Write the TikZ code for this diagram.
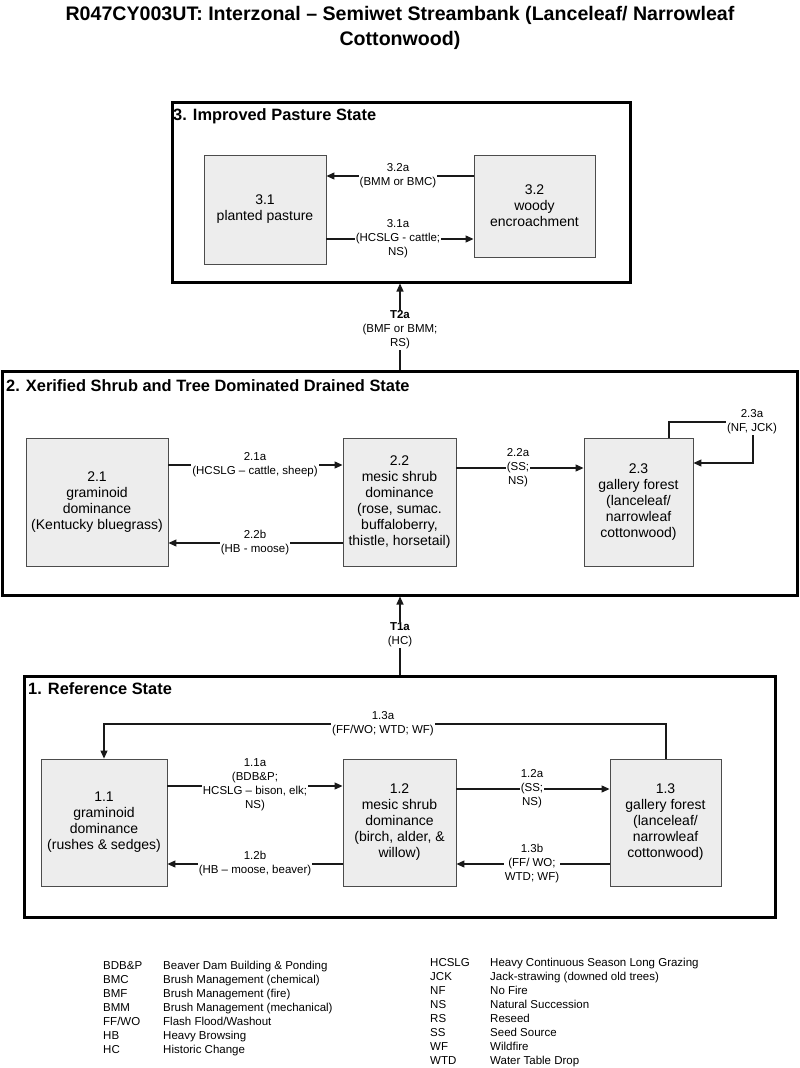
\documentclass[tikz,border=0pt]{standalone}
\usepackage{fontspec}
\setmainfont{Liberation Sans}
\usetikzlibrary{arrows.meta}
\begin{document}
\begin{tikzpicture}[x=1pt,y=-1pt,
  statebox/.style={draw=black, line width=3pt, inner sep=0pt},
  phase/.style={draw=black!70, fill=black!7, line width=0.9pt, inner sep=0pt, align=center,
    font=\fontsize{14}{16}\selectfont},
  lbl/.style={fill=white, inner sep=1pt, align=center, font=\fontsize{11.5}{14}\selectfont},
  sttitle/.style={anchor=west, inner sep=0pt, font=\bfseries\fontsize{16.4}{19}\selectfont},
  legabbr/.style={anchor=base west, inner sep=0pt, font=\fontsize{11.5}{14}\selectfont},
  arr/.style={draw=black!90, line width=1.1pt, -{Triangle[length=8pt,width=7pt]}}
]
\fill[white] (0,0) rectangle (800,1068);
\useasboundingbox (0,0) rectangle (800,1068);

% title
\node[align=center, font=\bfseries\fontsize{19.6}{25}\selectfont] (title) at (400,27.5)
  {R047CY003UT: Interzonal -- Semiwet Streambank (Lanceleaf/ Narrowleaf\\Cottonwood)};

% state boxes
\node[statebox, minimum width=458pt, minimum height=180pt] (s3) at (401,192) {};
\node[statebox, minimum width=795pt, minimum height=224pt] (s2) at (399.5,483) {};
\node[statebox, minimum width=751pt, minimum height=241pt] (s1) at (399.5,796.5) {};
\node[sttitle] (s3t) at (173,116) {3. Improved Pasture State};
\node[sttitle] (s2t) at (6,386) {2. Xerified Shrub and Tree Dominated Drained State};
\node[sttitle] (s1t) at (28,689) {1. Reference State};

% community phases
\node[phase, minimum width=122pt, minimum height=109pt] (b31) at (265,209.5) {3.1\\planted pasture};
\node[phase, minimum width=121pt, minimum height=102pt] (b32) at (534.5,206) {3.2\\woody\\encroachment};

\node[phase, minimum width=142pt, minimum height=128pt] (b21) at (97,502) {2.1\\graminoid\\dominance\\(Kentucky bluegrass)};
\node[phase, minimum width=113pt, minimum height=128pt] (b22) at (399.5,502) {2.2\\mesic shrub\\dominance\\(rose, sumac.\\buffaloberry,\\thistle, horsetail)};
\node[phase, minimum width=109pt, minimum height=128pt] (b23) at (638.5,502) {2.3\\gallery forest\\(lanceleaf/\\narrowleaf\\cottonwood)};

\node[phase, minimum width=126pt, minimum height=127pt] (b11) at (104,822.5) {1.1\\graminoid\\dominance\\(rushes \& sedges)};
\node[phase, minimum width=113pt, minimum height=127pt] (b12) at (399.5,822.5) {1.2\\mesic shrub\\dominance\\(birch, alder, \&\\willow)};
\node[phase, minimum width=111pt, minimum height=127pt] (b13) at (665.5,822.5) {1.3\\gallery forest\\(lanceleaf/\\narrowleaf\\cottonwood)};

% state 3 transitions
\draw[arr] (b32.west |- 0,176) -- (b31.east |- 0,176);
\node[lbl] (l32a) at (398,176) {3.2a\\(BMM or BMC)};
\draw[arr] (b31.east |- 0,239) -- (b32.west |- 0,239);
\node[lbl] (l31a) at (398,239) {3.1a\\(HCSLG - cattle;\\NS)};

% T2a
\draw[arr] (s2.north -| 400,0) -- (s3.south -| 400,0);
\node[lbl] (lt2a) at (400,330) {\textbf{T2a}\\(BMF or BMM;\\RS)};

% state 2 transitions
\draw[arr] (b21.east |- 0,465) -- (b22.west |- 0,465);
\node[lbl] (l21a) at (255,465) {2.1a\\(HCSLG -- cattle, sheep)};
\draw[arr] (b22.west |- 0,543) -- (b21.east |- 0,543);
\node[lbl] (l22b) at (255,543) {2.2b\\(HB - moose)};
\draw[arr] (b22.east |- 0,468) -- (b23.west |- 0,468);
\node[lbl] (l22a) at (518,468) {2.2a\\(SS;\\NS)};
\draw[arr] (b23.north -| 669,0) -- (669,422) -- (753,422) -- (753,463) -- (b23.east |- 0,463);
\node[lbl] (l23a) at (752,422) {2.3a\\(NF, JCK)};

% T1a
\draw[arr] (s1.north -| 400,0) -- (s2.south -| 400,0);
\node[lbl] (lt1a) at (400,635) {\textbf{T1a}\\(HC)};

% state 1 transitions
\draw[arr] (b13.north -| 666,0) -- (666,724) -- (104,724) -- (b11.north -| 104,0);
\node[lbl] (l13a) at (383,724) {1.3a\\(FF/WO; WTD; WF)};
\draw[arr] (b11.east |- 0,786) -- (b12.west |- 0,786);
\node[lbl] (l11a) at (255,785) {1.1a\\(BDB\&P;\\HCSLG -- bison, elk;\\NS)};
\draw[arr] (b12.west |- 0,864) -- (b11.east |- 0,864);
\node[lbl] (l12b) at (255,864) {1.2b\\(HB -- moose, beaver)};
\draw[arr] (b12.east |- 0,789) -- (b13.west |- 0,789);
\node[lbl] (l12a) at (532,789) {1.2a\\(SS;\\NS)};
\draw[arr] (b13.west |- 0,864) -- (b12.east |- 0,864);
\node[lbl] (l13b) at (532,864) {1.3b\\(FF/ WO;\\WTD; WF)};

% legend left
\node[legabbr] (a1) at (103,969) {BDB\&P};
\node[legabbr] (a2) at (103,983) {BMC};
\node[legabbr] (a3) at (103,997) {BMF};
\node[legabbr] (a4) at (103,1011) {BMM};
\node[legabbr] (a5) at (103,1025) {FF/WO};
\node[legabbr] (a6) at (103,1039) {HB};
\node[legabbr] (a7) at (103,1053) {HC};
\node[legabbr] (d1) at (163,969) {Beaver Dam Building \& Ponding};
\node[legabbr] (d2) at (163,983) {Brush Management (chemical)};
\node[legabbr] (d3) at (163,997) {Brush Management (fire)};
\node[legabbr] (d4) at (163,1011) {Brush Management (mechanical)};
\node[legabbr] (d5) at (163,1025) {Flash Flood/Washout};
\node[legabbr] (d6) at (163,1039) {Heavy Browsing};
\node[legabbr] (d7) at (163,1053) {Historic Change};
% legend right
\node[legabbr] (e1) at (430,966) {HCSLG};
\node[legabbr] (e2) at (430,980) {JCK};
\node[legabbr] (e3) at (430,994) {NF};
\node[legabbr] (e4) at (430,1008) {NS};
\node[legabbr] (e5) at (430,1022) {RS};
\node[legabbr] (e6) at (430,1036) {SS};
\node[legabbr] (e7) at (430,1050) {WF};
\node[legabbr] (e8) at (430,1064) {WTD};
\node[legabbr] (f1) at (490,966) {Heavy Continuous Season Long Grazing};
\node[legabbr] (f2) at (490,980) {Jack-strawing (downed old trees)};
\node[legabbr] (f3) at (490,994) {No Fire};
\node[legabbr] (f4) at (490,1008) {Natural Succession};
\node[legabbr] (f5) at (490,1022) {Reseed};
\node[legabbr] (f6) at (490,1036) {Seed Source};
\node[legabbr] (f7) at (490,1050) {Wildfire};
\node[legabbr] (f8) at (490,1064) {Water Table Drop};
\end{tikzpicture}
\end{document}
